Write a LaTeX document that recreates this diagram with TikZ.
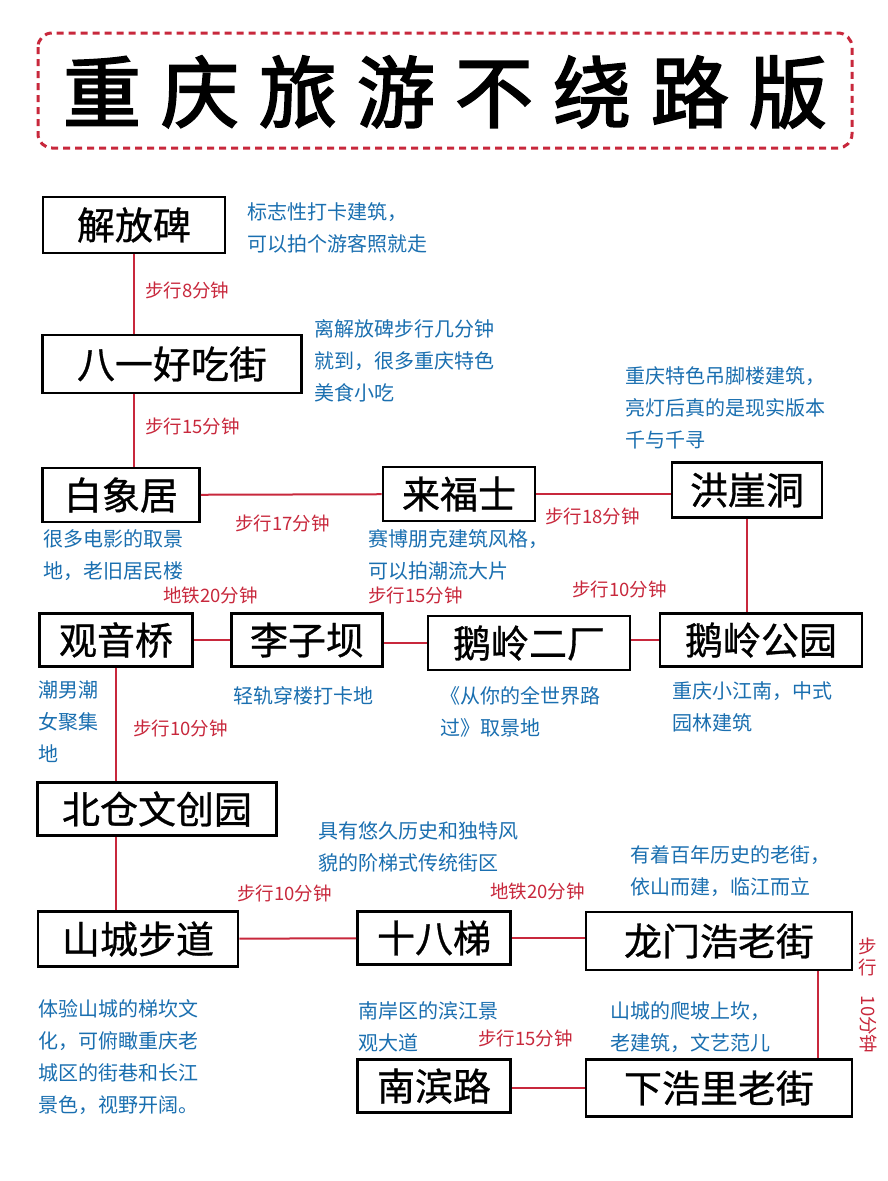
\documentclass[tikz,border=0pt]{standalone}
\usepackage{fontspec}
\setmainfont{Noto Sans CJK SC}
\newfontfamily\titlefont{Noto Sans CJK SC}[FakeBold=2.5]
\newfontfamily\boxfont{Noto Sans CJK SC}[FakeBold=0.8]
\definecolor{rd}{HTML}{C8283C}
\definecolor{bl}{HTML}{1A6FB0}
\tikzset{
 box/.style={draw=black,line width=2.6pt,fill=white,inner sep=0pt,font=\boxfont\fontsize{38}{40}\selectfont},
 lnk/.style={draw=rd,line width=2pt},
 rl/.style={text=rd,anchor=north west,inner sep=0pt,font=\fontsize{18.5}{22}\selectfont},
 bt/.style={text=bl,anchor=north west,inner sep=0pt,align=left,font=\fontsize{20}{32}\selectfont},
}
\begin{document}
\begin{tikzpicture}[x=1pt,y=-1pt]
\useasboundingbox (0,0) rectangle (887,1181);
\fill[white] (0,0) rectangle (887,1181);
\draw[rd,line width=3pt,dash pattern=on 7pt off 5pt,rounded corners=14pt] (38,33) rectangle (852,148);
\node[inner sep=0pt,font=\titlefont\fontsize{78}{80}\selectfont] (title) at (445,92) {重\hspace{20pt}庆\hspace{20pt}旅\hspace{20pt}游\hspace{20pt}不\hspace{20pt}绕\hspace{20pt}路\hspace{20pt}版};
% boxes
\node[box,minimum width=182,minimum height=56] (jfb) at (134,225) {解放碑};
\node[box,minimum width=259,minimum height=58] (by) at (172,364) {八一好吃街};
\node[box,minimum width=157,minimum height=54] (bxj) at (121,495) {白象居};
\node[box,minimum width=152,minimum height=54] (lfs) at (459,494) {来福士};
\node[box,minimum width=150,minimum height=55] (hyd) at (747,490) {洪崖洞};
\node[box,minimum width=153,minimum height=53] (gyq) at (116,640) {观音桥};
\node[box,minimum width=151,minimum height=53] (lzb) at (307,640) {李子坝};
\node[box,minimum width=202,minimum height=54] (el2) at (529,643) {鹅岭二厂};
\node[box,minimum width=202,minimum height=53] (elg) at (761,640) {鹅岭公园};
\node[box,minimum width=239,minimum height=53] (bc) at (157,809) {北仓文创园};
\node[box,minimum width=200,minimum height=55] (scb) at (138,939) {山城步道};
\node[box,minimum width=153,minimum height=53] (sbt) at (434,938) {十八梯};
\node[box,minimum width=266,minimum height=58] (lmh) at (719,941) {龙门浩老街};
\node[box,minimum width=153,minimum height=53] (nbl) at (434,1086) {南滨路};
\node[box,minimum width=266,minimum height=57] (xhl) at (719,1088) {下浩里老街};
% connectors
\draw[lnk] (jfb.south) -- (by.north -| jfb.south);
\draw[lnk] (by.south -| jfb) -- (bxj.north -| jfb);
\draw[lnk] (bxj) -- (lfs);
\draw[lnk] (lfs) -- (lfs -| hyd.west);
\draw[lnk] (hyd) -- (elg.north -| hyd);
\draw[lnk] (elg) -- (elg -| el2.east);
\draw[lnk] (el2.west) -- (el2.west -| lzb.east);
\draw[lnk] (lzb) -- (gyq);
\draw[lnk] (gyq) -- (bc.north -| gyq);
\draw[lnk] (bc.south -| gyq) -- (scb.north -| gyq);
\draw[lnk] (scb) -- (sbt);
\draw[lnk] (sbt) -- (sbt -| lmh.west);
\coordinate (lmd) at (818,970);
\draw[lnk] (lmh.south -| lmd) -- (xhl.north -| lmd);
\draw[lnk] (xhl.west) -- (xhl.west -| nbl.east);
% red labels
\node[rl] (r1) at (145,282) {步行8分钟};
\node[rl] (r2) at (145,418) {步行15分钟};
\node[rl] (r3) at (235,515) {步行17分钟};
\node[rl] (r4) at (545,508) {步行18分钟};
\node[rl] (r5) at (163,587) {地铁20分钟};
\node[rl] (r6) at (368,587) {步行15分钟};
\node[rl] (r7) at (572,581) {步行10分钟};
\node[rl] (r8) at (133,720) {步行10分钟};
\node[rl] (r9) at (237,885) {步行10分钟};
\node[rl] (r10) at (490,883) {地铁20分钟};
\node[rl] (r11) at (478,1030) {步行15分钟};
\node[text=rd,inner sep=0pt,align=center,anchor=north,font=\fontsize{18.5}{21}\selectfont] (r12) at (868,938) {步\\行\\\rotatebox{-90}{10分钟}};
% blue texts
\node[bt] (b1) at (247,202) {标志性打卡建筑，\\可以拍个游客照就走};
\node[bt] (b2) at (314,319) {离解放碑步行几分钟\\就到，很多重庆特色\\美食小吃};
\node[bt] (b3) at (625,366) {重庆特色吊脚楼建筑，\\亮灯后真的是现实版本\\千与千寻};
\node[bt] (b4) at (43,529) {很多电影的取景\\地，老旧居民楼};
\node[bt] (b5) at (368,529) {赛博朋克建筑风格，\\可以拍潮流大片};
\node[bt] (b6) at (38,681) {潮男潮\\女聚集\\地};
\node[bt] (b7) at (233,686) {轻轨穿楼打卡地};
\node[bt] (b8) at (440,686) {《从你的全世界路\\过》取景地};
\node[bt] (b9) at (672,681) {重庆小江南，中式\\园林建筑};
\node[bt] (b10) at (318,821) {具有悠久历史和独特风\\貌的阶梯式传统街区};
\node[bt] (b11) at (630,845) {有着百年历史的老街，\\依山而建，临江而立};
\node[bt] (b12) at (38,999) {体验山城的梯坎文\\化，可俯瞰重庆老\\城区的街巷和长江\\景色，视野开阔。};
\node[bt] (b13) at (358,1001) {南岸区的滨江景\\观大道};
\node[bt] (b14) at (610,1001) {山城的爬坡上坎，\\老建筑，文艺范儿};
\end{tikzpicture}
\end{document}
